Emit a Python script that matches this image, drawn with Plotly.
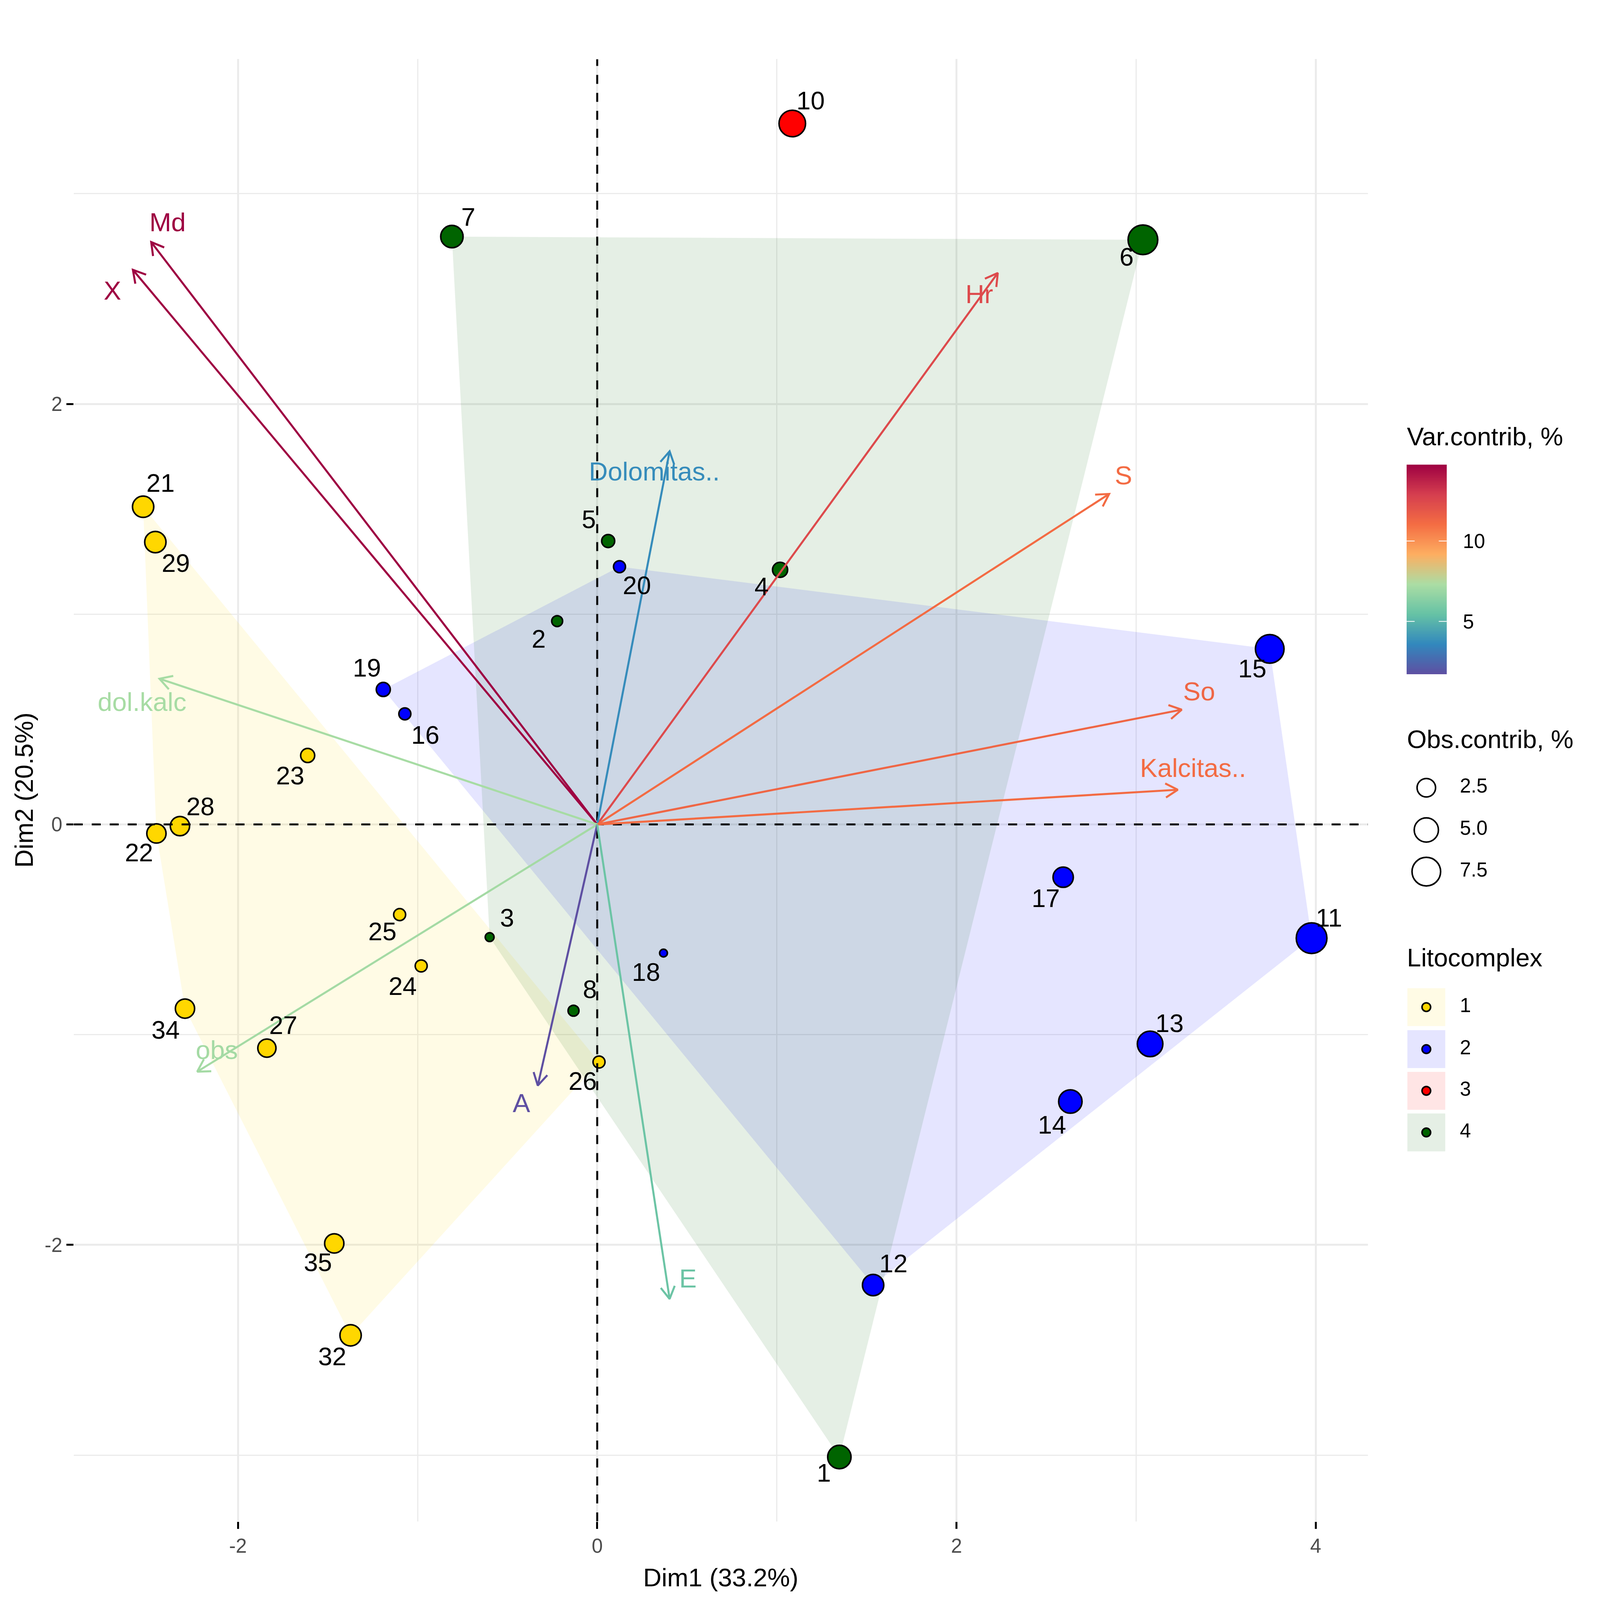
import math
import numpy as np
import plotly.graph_objects as go
from plotly.colors import sample_colorscale

# ---------- data ----------
obs_id = [1, 2, 3, 4, 5, 6, 7, 8, 10, 11, 12, 13, 14, 15, 16, 17, 18, 19, 20, 21, 22, 23, 24, 25, 26, 27, 28, 29, 32, 34, 35]
obs_group = [4, 4, 4, 4, 4, 4, 4, 4, 3, 2, 2, 2, 2, 2, 2, 2, 2, 2, 2, 1, 1, 1, 1, 1, 1, 1, 1, 1, 1, 1, 1]
obs_x = [1.348, -0.223, -0.599, 1.018, 0.061, 3.038, -0.809, -0.132, 1.086, 3.977, 1.536, 3.078, 2.634, 3.744, -1.071, 2.594, 0.369, -1.191, 0.124, -2.528, -2.454, -1.612, -0.980, -1.100, 0.010, -1.839, -2.323, -2.460, -1.373, -2.295, -1.464]
obs_y = [-3.009, 0.967, -0.536, 1.211, 1.348, 2.781, 2.796, -0.886, 3.334, -0.541, -2.191, -1.044, -1.318, 0.835, 0.526, -0.251, -0.612, 0.642, 1.226, 1.511, -0.043, 0.328, -0.673, -0.429, -1.130, -1.064, -0.008, 1.343, -2.430, -0.876, -1.993]
obs_contrib = [4.58, 0.50, 0.22, 1.41, 0.90, 8.16, 4.09, 0.50, 6.25, 8.84, 3.61, 5.66, 4.58, 7.48, 0.69, 3.18, 0.12, 1.14, 0.69, 3.61, 2.77, 1.14, 0.69, 0.69, 0.69, 2.38, 2.77, 3.61, 3.61, 2.77, 2.77]
label_x = [1.262, -0.326, -0.502, 0.915, -0.047, 2.947, -0.718, -0.041, 1.188, 4.074, 1.649, 3.186, 2.532, 3.647, -0.957, 2.497, 0.272, -1.282, 0.221, -2.431, -2.551, -1.709, -1.083, -1.196, -0.081, -1.748, -2.209, -2.346, -1.475, -2.403, -1.555]
label_y = [-3.095, 0.871, -0.455, 1.120, 1.440, 2.689, 2.877, -0.795, 3.431, -0.455, -2.100, -0.957, -1.440, 0.729, 0.414, -0.363, -0.714, 0.734, 1.125, 1.612, -0.145, 0.221, -0.780, -0.521, -1.232, -0.967, 0.074, 1.232, -2.542, -0.988, -2.095]

var_names = ["Md", "X", "Hr", "Dolomitas..", "S", "So", "Kalcitas..", "dol.kalc", "obs", "A", "E"]
var_x = [-2.483, -2.585, 2.230, 0.403, 2.850, 3.254, 3.232, -2.437, -2.227, -0.331, 0.403]
var_y = [2.770, 2.638, 2.623, 1.775, 1.572, 0.546, 0.165, 0.693, -1.176, -1.242, -2.257]
var_contrib = [14.75, 14.7, 12.4, 3.7, 11.1, 11.3, 11.1, 7.2, 7.1, 1.71, 5.6]
var_label_x = [-2.392, -2.699, 2.127, 0.318, 2.930, 3.351, 3.317, -2.534, -2.118, -0.422, 0.505]
var_label_y = [2.852, 2.527, 2.511, 1.668, 1.648, 0.622, 0.256, 0.571, -1.084, -1.338, -2.171]

x_ticks = [-2, 0, 2, 4]
y_ticks = [-2, 0, 2]
spectral = ["#5E4FA2", "#3288BD", "#66C2A5", "#ABDDA4", "#FDAE61", "#F46D43", "#D53E4F", "#9E0142"]
group_levels = [1, 2, 3, 4]
group_colors = {1: "#FFD700", 2: "#0000FF", 3: "#FF0000", 4: "#006400"}
group_fills = {1: "rgba(255,215,0,0.1)", 2: "rgba(0,0,255,0.1)", 3: "rgba(255,0,0,0.1)", 4: "rgba(0,100,0,0.1)"}
size_legend_values = [2.5, 5.0, 7.5]
var_min, var_max = 1.71, 14.75
bar_ticks = [5, 10]

# ---------- geometry ----------
REF_W, REF_H = 4293, 4110      # reference size; the browser viewport is capped at 4096x4096
W, H = 4096, 4096
KX, KY = W / REF_W, H / REF_H
K = 0.97
P_L, P_R, P_T, P_B = 198, 3670, 152, 3908
X_RANGE = [-2.914, 4.29]
Y_RANGE = [-3.315, 3.64]
sx = KX * (P_R - P_L) / (X_RANGE[1] - X_RANGE[0])
sy = KY * (P_B - P_T) / (Y_RANGE[1] - Y_RANGE[0])
FONT = "Liberation Sans"
TICK_SIZE, TITLE_SIZE, LABEL_SIZE, VAR_LABEL_SIZE = 51, 65, 65, 67
OUTLINE = 4


def diameter(c):
    return K * (23 * math.sqrt(c) + 16.6) - OUTLINE


def hull(points):
    pts = sorted(set(points))
    if len(pts) < 3:
        return pts

    def half(seq):
        out = []
        for p in seq:
            while len(out) > 1 and ((out[-1][0] - out[-2][0]) * (p[1] - out[-2][1]) - (out[-1][1] - out[-2][1]) * (p[0] - out[-2][0])) <= 0:
                out.pop()
            out.append(p)
        return out[:-1]

    return half(pts) + half(pts[::-1])


def var_color(v):
    return sample_colorscale(spectral, [(v - var_min) / (var_max - var_min)])[0]


fig = go.Figure()

# convex hulls
for g in group_levels:
    members = [(x, y) for x, y, k in zip(obs_x, obs_y, obs_group) if k == g]
    if len(members) < 3:
        continue
    h = hull(members)
    fig.add_trace(go.Scatter(x=[p[0] for p in h] + [h[0][0]], y=[p[1] for p in h] + [h[0][1]],
                             mode="lines", fill="toself", fillcolor=group_fills[g],
                             line=dict(width=0), hoverinfo="skip", showlegend=False))

# observations
for g in group_levels:
    idx = [i for i, k in enumerate(obs_group) if k == g]
    fig.add_trace(go.Scatter(x=[obs_x[i] for i in idx], y=[obs_y[i] for i in idx], mode="markers",
                             marker=dict(color=group_colors[g], opacity=1, size=[diameter(obs_contrib[i]) for i in idx],
                                         line=dict(color="black", width=OUTLINE)),
                             name=str(g), showlegend=False))

# zero lines
fig.add_trace(go.Scatter(x=X_RANGE, y=[0, 0], mode="lines", line=dict(color="black", width=5, dash="23px,23px"),
                         hoverinfo="skip", showlegend=False))
fig.add_trace(go.Scatter(x=[0, 0], y=Y_RANGE, mode="lines", line=dict(color="black", width=5, dash="23px,23px"),
                         hoverinfo="skip", showlegend=False))

# variable arrows
HEAD = 36
for n, vx, vy, vc in zip(var_names, var_x, var_y, var_contrib):
    ang = math.atan2(vy * sy, vx * sx)
    xs, ys = [0, vx, None], [0, vy, None]
    a1, a2 = ang + math.radians(150), ang - math.radians(150)
    xs += [vx + HEAD * math.cos(a1) / sx, vx, vx + HEAD * math.cos(a2) / sx]
    ys += [vy + HEAD * math.sin(a1) / sy, vy, vy + HEAD * math.sin(a2) / sy]
    fig.add_trace(go.Scatter(x=xs, y=ys, mode="lines", line=dict(color=var_color(vc), width=5.2),
                             name=n, showlegend=False))

# labels
fig.add_trace(go.Scatter(x=label_x, y=label_y, mode="text", text=[str(i) for i in obs_id],
                         textposition="middle center", textfont=dict(family=FONT, size=LABEL_SIZE, color="black"),
                         hoverinfo="skip", showlegend=False))
fig.add_trace(go.Scatter(x=var_label_x, y=var_label_y, mode="text", text=var_names,
                         textposition="middle center",
                         textfont=dict(family=FONT, size=VAR_LABEL_SIZE, color=[var_color(v) for v in var_contrib]),
                         hoverinfo="skip", showlegend=False))

# ---------- legends (overlay axes in reference pixels) ----------
LEG_KW = dict(xaxis="x2", yaxis="y2", hoverinfo="skip", showlegend=False)
fig.add_trace(go.Scatter(x=[3775, 3775, 3775], y=[1128, 1905, 2466], mode="text",
                         text=["Var.contrib, %", "Obs.contrib, %", "Litocomplex"], textposition="middle right",
                         textfont=dict(family=FONT, size=TITLE_SIZE, color="black"), **LEG_KW))
fig.add_trace(go.Scatter(x=[3827] * 3, y=[2023.5, 2132, 2239], mode="markers",
                         marker=dict(color="white", opacity=1, size=[diameter(v) for v in size_legend_values],
                                     line=dict(color="black", width=OUTLINE)), **LEG_KW))
fig.add_trace(go.Scatter(x=[3917] * 3, y=[2023.5, 2132, 2239], mode="text",
                         text=[f"{v:.1f}" for v in size_legend_values], textposition="middle right",
                         textfont=dict(family=FONT, size=TICK_SIZE, color="black"), **LEG_KW))
key_y = [2587, 2695, 2802, 2909]
fig.add_trace(go.Scatter(x=[3827] * 4, y=key_y, mode="markers",
                         marker=dict(symbol="square", size=97, color=[group_fills[g] for g in group_levels], line=dict(width=0)),
                         **LEG_KW))
fig.add_trace(go.Scatter(x=[3827] * 4, y=key_y, mode="markers",
                         marker=dict(size=22, opacity=1, color=[group_colors[g] for g in group_levels], line=dict(color="black", width=OUTLINE)),
                         **LEG_KW))
fig.add_trace(go.Scatter(x=[3917] * 4, y=key_y, mode="text", text=[str(g) for g in group_levels],
                         textposition="middle right",
                         textfont=dict(family=FONT, size=TICK_SIZE, color="black"), **LEG_KW))

# colour bar
levels = np.linspace(var_min, var_max, 300)
fig.add_trace(go.Heatmap(x=[0], y=levels, z=[[v] for v in levels], xaxis="x3", yaxis="y3",
                         colorscale=[[i / 7, c] for i, c in enumerate(spectral)], zmin=var_min, zmax=var_max,
                         showscale=False, hoverinfo="skip"))
tx, ty = [], []
for t in bar_ticks:
    tx += [-0.5, -0.3, None, 0.3, 0.5, None]
    ty += [t, t, None, t, t, None]
fig.add_trace(go.Scatter(x=tx, y=ty, mode="lines", line=dict(color="white", width=2), xaxis="x3", yaxis="y3",
                         hoverinfo="skip", showlegend=False))

grid = dict(showgrid=True, gridcolor="#EBEBEB", gridwidth=5, zeroline=False, showline=False,
            tickmode="array",
            ticks="outside", ticklen=18, tickwidth=5, tickcolor="black",
            tickfont=dict(family=FONT, size=TICK_SIZE, color="#4D4D4D"),
            minor=dict(showgrid=True, gridcolor="#EBEBEB", gridwidth=3, tickmode="linear", tick0=0, dtick=1, ticks=""),
            automargin=False)
fig.update_layout(
    width=W, height=H, autosize=False, margin=dict(l=0, r=0, t=0, b=0), showlegend=False,
    paper_bgcolor="white", plot_bgcolor="rgba(0,0,0,0)", font=dict(family=FONT),
    xaxis=dict(domain=[P_L / REF_W, P_R / REF_W], range=X_RANGE, anchor="y",
               tickvals=x_ticks, ticktext=[str(t) for t in x_ticks],
               title=dict(text="Dim1 (33.2%)", font=dict(family=FONT, size=TITLE_SIZE, color="black"), standoff=30), **grid),
    yaxis=dict(domain=[1 - P_B / REF_H, 1 - P_T / REF_H], range=Y_RANGE, anchor="x",
               tickvals=y_ticks, ticktext=[str(t) for t in y_ticks], **grid),
    xaxis2=dict(domain=[0, 1], range=[0, REF_W], visible=False, anchor="y2"),
    yaxis2=dict(domain=[0, 1], range=[REF_H, 0], visible=False, anchor="x2"),
    xaxis3=dict(domain=[3774 / REF_W, 3882 / REF_W], range=[-0.5, 0.5], visible=False, anchor="y3"),
    yaxis3=dict(domain=[1 - 1732 / REF_H, 1 - 1193.5 / REF_H], range=[var_min, var_max], anchor="x3", side="right",
                tickmode="array", tickvals=bar_ticks, ticks="outside", ticklen=30, tickcolor="rgba(0,0,0,0)",
                showgrid=False, zeroline=False, showline=False,
                tickfont=dict(family=FONT, size=TICK_SIZE, color="black")),
    annotations=[dict(text="Dim2 (20.5%)", xref="paper", yref="paper", x=64 / REF_W, y=1 - (P_T + P_B) / 2 / REF_H,
                      xanchor="center", yanchor="middle", textangle=-90, showarrow=False,
                      font=dict(family=FONT, size=TITLE_SIZE, color="black"))],
)

fig.write_html("out.html", config={"displayModeBar": False}, post_script="document.body.style.margin='0';")
